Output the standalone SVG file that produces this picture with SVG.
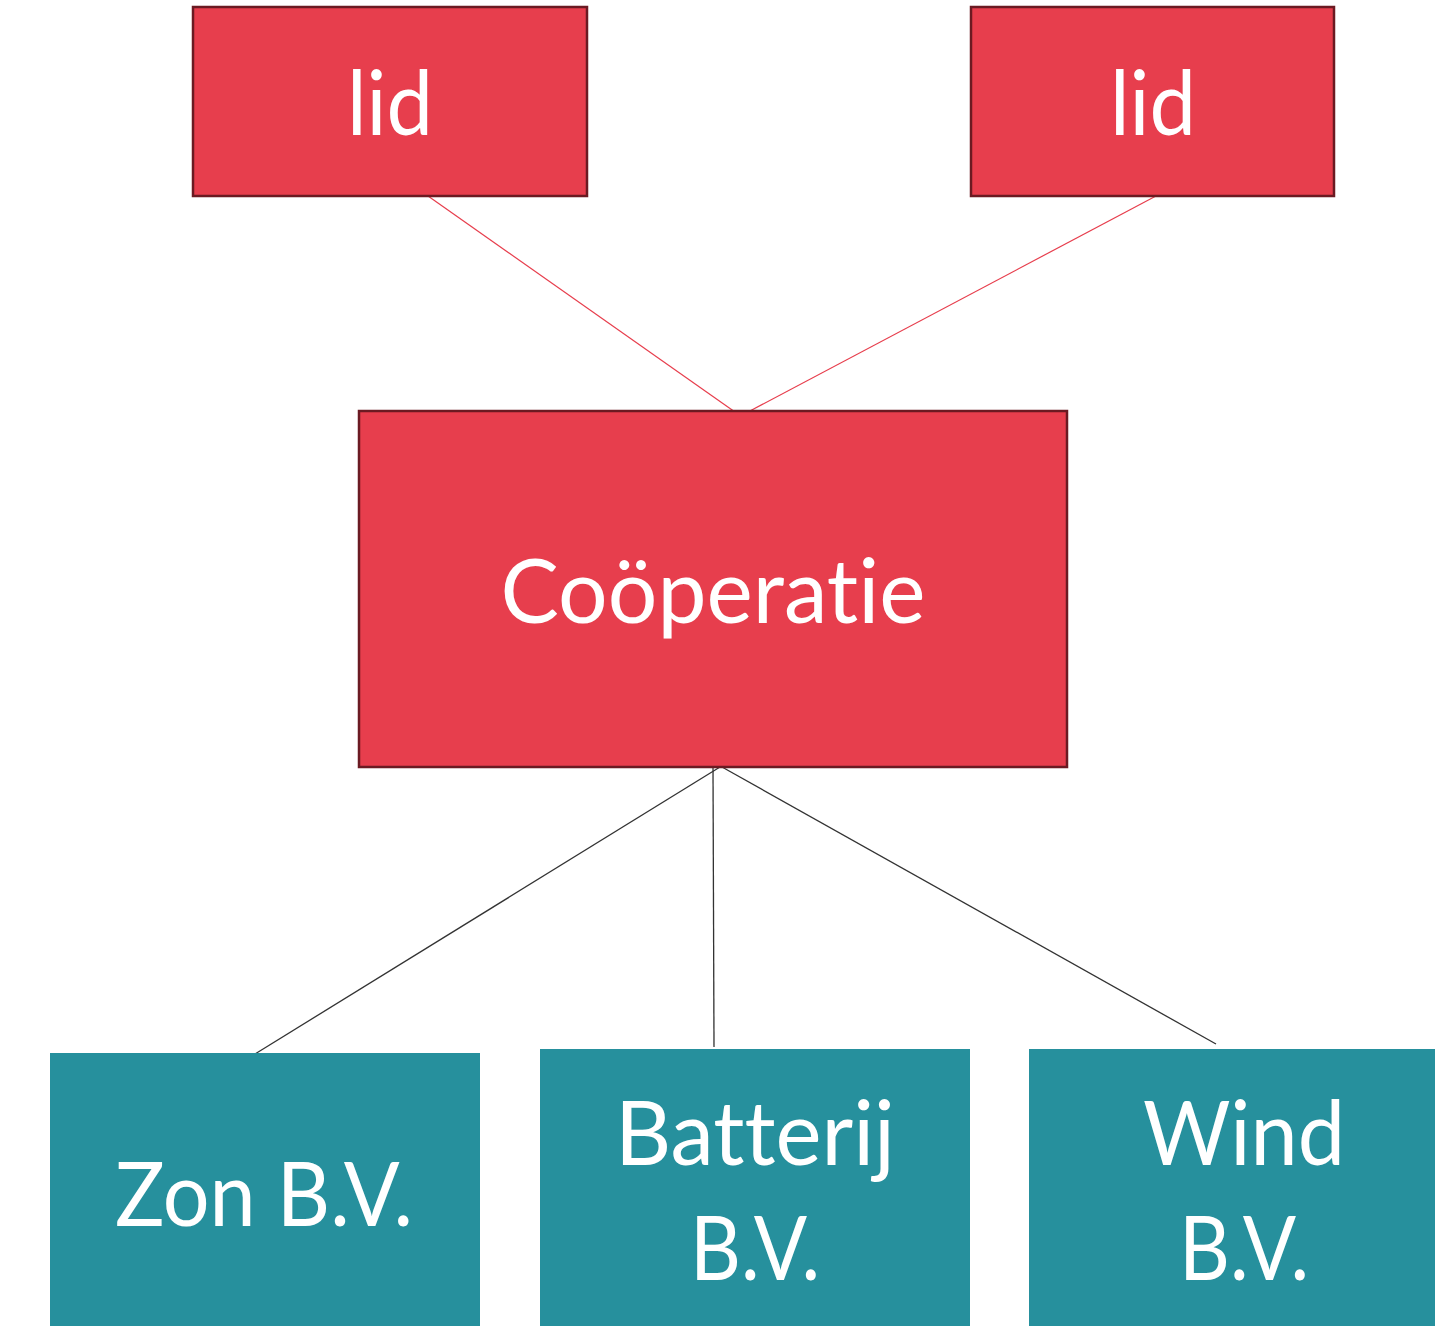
<svg xmlns="http://www.w3.org/2000/svg" width="1435" height="1326" viewBox="0 0 1435 1326">
<style>
.red{fill:#E73E4D;stroke:#6B1A22;stroke-width:2.5}
.teal{fill:#26909D}
.t{font-family:Lato,"Open Sans","Liberation Sans",sans-serif;font-size:90px;fill:#FFFFFF;text-anchor:middle;font-variant-ligatures:none;font-feature-settings:"liga" 0,"clig" 0,"dlig" 0}
.rl{stroke:#E73E4D;stroke-width:1.2;fill:none}
.dl{stroke:#333333;stroke-width:1.3;fill:none}
</style>
<rect width="1435" height="1326" fill="#FFFFFF"/>
<g id="connectors">
<line class="rl" x1="428" y1="196" x2="735" y2="412"/>
<line class="rl" x1="1156" y1="196" x2="748" y2="412"/>
<line class="dl" x1="720" y1="767" x2="255" y2="1054"/>
<line class="dl" x1="713" y1="767" x2="714" y2="1047"/>
<line class="dl" x1="722" y1="767" x2="1216" y2="1044"/>
</g>
<g id="lid1">
<rect class="red" x="193" y="7" width="394" height="189"/>
<text class="t" x="390" y="135" textLength="86" lengthAdjust="spacingAndGlyphs">lid</text>
</g>
<g id="lid2">
<rect class="red" x="971" y="7" width="363" height="189"/>
<text class="t" x="1153" y="135" textLength="86" lengthAdjust="spacingAndGlyphs">lid</text>
</g>
<g id="cooperatie">
<rect class="red" x="359" y="411" width="708" height="356"/>
<text class="t" x="713" y="623" textLength="425" lengthAdjust="spacingAndGlyphs">Coöperatie</text>
</g>
<g id="zon">
<rect class="teal" x="50" y="1053" width="430" height="290"/>
<text class="t" x="264" y="1226" textLength="298" lengthAdjust="spacingAndGlyphs">Zon B.V.</text>
</g>
<g id="batterij">
<rect class="teal" x="540" y="1049" width="430" height="290"/>
<text class="t" x="755" y="1165" textLength="280" lengthAdjust="spacingAndGlyphs">Batterij</text>
<text class="t" x="755" y="1280" textLength="130" lengthAdjust="spacingAndGlyphs">B.V.</text>
</g>
<g id="wind">
<rect class="teal" x="1029" y="1049" width="430" height="290"/>
<text class="t" x="1244" y="1165" textLength="202" lengthAdjust="spacingAndGlyphs">Wind</text>
<text class="t" x="1244" y="1280" textLength="130" lengthAdjust="spacingAndGlyphs">B.V.</text>
</g>
</svg>
